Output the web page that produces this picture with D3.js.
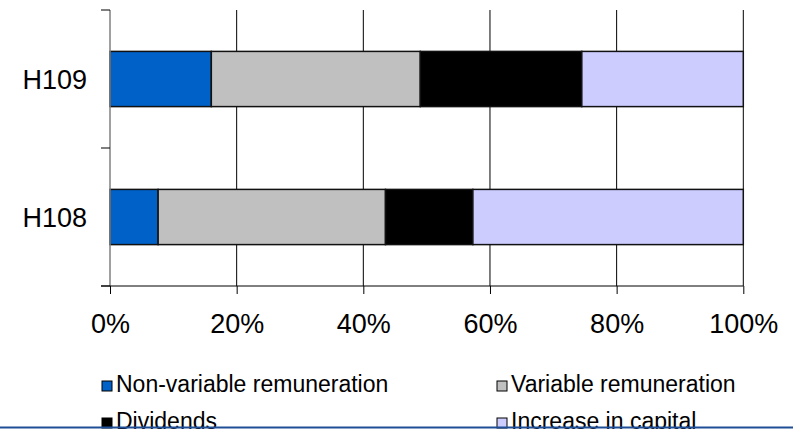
<!DOCTYPE html>
<html>
<head>
<meta charset="utf-8">
<script src="https://cdn.jsdelivr.net/npm/d3@7"></script>
<style>
  html, body { margin: 0; padding: 0; background: #fff; }
  svg { display: block; }
  text { font-family: "Liberation Sans", Arial, sans-serif; fill: #000; }
</style>
</head>
<body>
<svg id="chart" width="793" height="429"></svg>
<script>
// Half-year periods, top to bottom
const periods = ["H109", "H108"];

// Share of each use of funds per period (percent)
const nonVariableRemuneration = [16.0, 7.6];
const variableRemuneration    = [33.0, 35.9];
const dividends               = [25.5, 13.8];
const increaseInCapital       = [25.5, 42.7];

const seriesNames  = ["Non-variable remuneration", "Variable remuneration", "Dividends", "Increase in capital"];
const seriesColors = ["#0062c8", "#c0c0c0", "#000000", "#ccccff"];
const xTicks = [0, 0.2, 0.4, 0.6, 0.8, 1.0];

const rows = periods.map((p, i) => ({
  period: p,
  "Non-variable remuneration": nonVariableRemuneration[i],
  "Variable remuneration": variableRemuneration[i],
  "Dividends": dividends[i],
  "Increase in capital": increaseInCapital[i]
}));

const stacked = d3.stack()
  .keys(seriesNames)
  .offset(d3.stackOffsetExpand)(rows);

const svg = d3.select("#chart");
const W = 793, H = 429;

const x = d3.scaleLinear().domain([0, 1]).range([110, 743.3]);
const y = d3.scaleBand().domain(periods).range([10, 286])
  .paddingInner(0.6).paddingOuter(0.3);
const color = d3.scaleOrdinal().domain(seriesNames).range(seriesColors);

// vertical gridlines
svg.append("g")
  .selectAll("line")
  .data(xTicks.slice(1))
  .join("line")
  .attr("x1", d => x(d)).attr("x2", d => x(d))
  .attr("y1", 10).attr("y2", 286)
  .attr("stroke", "#000").attr("stroke-width", 1);

// stacked bars
svg.append("g")
  .selectAll("g")
  .data(stacked)
  .join("g")
  .attr("fill", d => color(d.key))
  .selectAll("rect")
  .data(d => d)
  .join("rect")
  .attr("x", d => x(d[0]))
  .attr("y", d => y(d.data.period))
  .attr("width", d => x(d[1]) - x(d[0]))
  .attr("height", y.bandwidth())
  .attr("stroke", "#111")
  .attr("stroke-width", 1.5);

// category axis (left)
const yAxis = svg.append("g");
yAxis.append("line")
  .attr("x1", 110).attr("x2", 110).attr("y1", 10).attr("y2", 286)
  .attr("stroke", "#808080").attr("stroke-width", 1.5);
const yBoundaries = [10, (y("H109") + y.bandwidth() + y("H108")) / 2, 286];
yAxis.selectAll("line.tick")
  .data(yBoundaries)
  .join("line")
  .attr("class", "tick")
  .attr("x1", 101).attr("x2", 110)
  .attr("y1", d => d).attr("y2", d => d)
  .attr("stroke", "#000").attr("stroke-width", 1);
yAxis.selectAll("text")
  .data(periods)
  .join("text")
  .attr("x", 87)
  .attr("y", d => y(d) + y.bandwidth() / 2)
  .attr("dy", "0.36em")
  .attr("text-anchor", "end")
  .attr("font-size", 27)
  .text(d => d);

// value axis (bottom)
const xAxis = d3.axisBottom(x)
  .tickValues(xTicks)
  .tickFormat(d3.format(".0%"))
  .tickSize(8)
  .tickPadding(20);
const gx = svg.append("g").attr("transform", "translate(0,286)").call(xAxis);
gx.select(".domain").remove();
gx.append("line").attr("x1", 101).attr("x2", x(1)).attr("y1", 0).attr("y2", 0)
  .attr("stroke", "#000").attr("stroke-width", 1);
gx.selectAll(".tick line").attr("stroke", "#000");
gx.selectAll(".tick text")
  .attr("font-size", 27)
  .attr("font-family", "Liberation Sans, Arial, sans-serif")
  .attr("fill", "#000");

// legend, two columns by two rows
const legend = svg.append("g");
const legendItems = legend.selectAll("g")
  .data(seriesNames)
  .join("g")
  .attr("transform", (d, i) => `translate(${i % 2 === 0 ? 102 : 497},${i < 2 ? 381 : 418})`);
legendItems.append("rect")
  .attr("width", 10).attr("height", 10)
  .attr("fill", d => color(d))
  .attr("stroke", "#000").attr("stroke-width", 1);
legendItems.append("text")
  .attr("x", 14).attr("y", 11)
  .attr("font-size", 23)
  .text(d => d);

// rule along the bottom edge
svg.append("line")
  .attr("x1", 0).attr("x2", W).attr("y1", 427.5).attr("y2", 427.5)
  .attr("stroke", "#1f4e96").attr("stroke-width", 2);
</script>
</body>
</html>
